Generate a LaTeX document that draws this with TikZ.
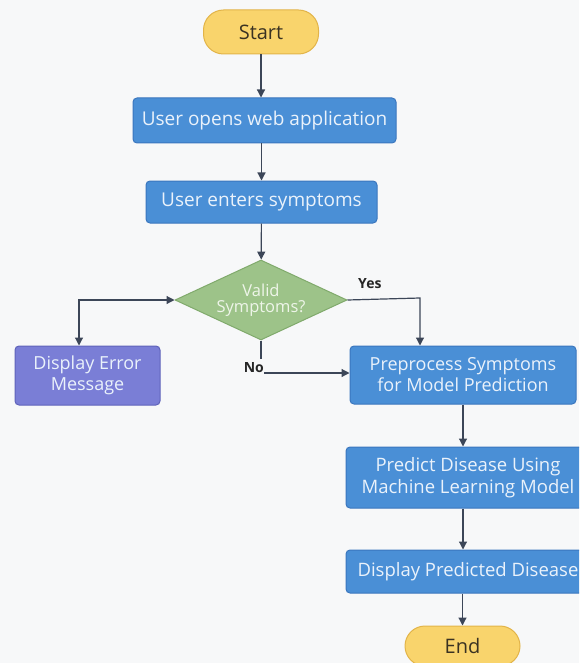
\documentclass[tikz,border=0pt]{standalone}
\usepackage{fontspec}
\setmainfont{Open Sans}
\usetikzlibrary{shapes.geometric,arrows.meta}
\definecolor{bg}{HTML}{F7F8F9}
\definecolor{boxblue}{HTML}{4A8FD6}
\definecolor{boxblueb}{HTML}{3A76BE}
\definecolor{txtblue}{HTML}{EAF2FB}
\definecolor{termy}{HTML}{F9D46C}
\definecolor{termyb}{HTML}{E2B449}
\definecolor{termtxt}{HTML}{3A3222}
\definecolor{decg}{HTML}{9DC389}
\definecolor{decgb}{HTML}{80AA6C}
\definecolor{dectxt}{HTML}{EEF5E9}
\definecolor{errp}{HTML}{7A7ED6}
\definecolor{errpb}{HTML}{5F63BA}
\definecolor{arr}{HTML}{3C4658}
\tikzset{
  x=1pt, y=-1pt,
  procbox/.style={draw=boxblueb, line width=1pt, fill=boxblue, rounded corners=4pt, text=txtblue, font=\fontsize{19}{22}\selectfont, align=center, inner sep=0pt},
  termbox/.style={draw=termyb, line width=1pt, fill=termy, rounded corners=20pt, text=termtxt, font=\fontsize{20}{22}\selectfont, inner sep=0pt},
  decbox/.style={diamond, draw=decgb, line width=1pt, fill=decg, text=dectxt, font=\fontsize{16.5}{18}\selectfont, align=center, inner sep=0pt, aspect=2.15},
  errbox/.style={draw=errpb, line width=1pt, fill=errp, rounded corners=4pt, text=txtblue, font=\fontsize{18}{21}\selectfont, align=center, inner sep=0pt},
  conn/.style={draw=arr, line width=1.2pt, -{Triangle[length=8pt,width=8pt]}},
  plainconn/.style={draw=arr, line width=1.2pt},
  lbl/.style={text=black!85, font=\fontsize{14}{16}\selectfont\bfseries, inner sep=0pt}
}
\begin{document}
\begin{tikzpicture}
\useasboundingbox (0,0) rectangle (579,663);
\clip (0,0) rectangle (579,663);
\fill[bg] (0,0) rectangle (579,663);

\node[termbox, minimum width=115pt, minimum height=44pt] (start) at (261,32) {Start};
\node[procbox, minimum width=263pt, minimum height=45pt] (open) at (264.5,120.5) {User opens web application};
\node[procbox, minimum width=231pt, minimum height=42pt] (enter) at (261.5,202) {User enters symptoms};
\node[decbox, minimum width=172pt, minimum height=80pt] (valid) at (261,300) {Valid\\[-2pt]Symptoms?};
\node[errbox, minimum width=145pt, minimum height=59pt] (err) at (87.5,375.5) {Display Error\\Message};
\node[procbox, minimum width=226pt, minimum height=58pt, font=\fontsize{18}{21}\selectfont] (prep) at (463,375) {Preprocess Symptoms\\for Model Prediction};
\node[procbox, minimum width=244pt, minimum height=61pt, font=\fontsize{18.5}{22}\selectfont] (pred) at (468,477.5) {Predict Disease Using\\Machine Learning Model};
\node[procbox, minimum width=244pt, minimum height=43pt, font=\fontsize{18.5}{22}\selectfont] (disp) at (468,571.5) {Display Predicted Disease};
\node[termbox, minimum width=115pt, minimum height=40pt] (end) at (462.5,646) {End};

\node[lbl, anchor=south west] (yes) at (358,289) {Yes};
\node[lbl, anchor=south east] (no) at (264,373) {No};

\draw[conn] (start) -- (start |- open.north);
\draw[conn] (open.south -| enter) -- (enter);
\draw[conn] (enter) -- (valid);
\draw[conn, {Triangle[length=8pt,width=8pt]}-{Triangle[length=8pt,width=8pt]}] (valid.west) -| (err.north -| 79,0);
\coordinate (yescorner) at (420,298);
\draw[conn] (valid.east) -- (yescorner) -- (yescorner |- prep.north);
\draw[plainconn] (valid.south) -- (261,359);
\draw[conn] (no.south east) -- (no.south east -| prep.west);
\draw[conn] (prep.south) -- (prep.south |- pred.north);
\draw[conn] (pred.south -| prep.south) -- (disp.north -| prep.south);
\draw[conn] (disp.south -| end) -- (end);
\end{tikzpicture}
\end{document}
